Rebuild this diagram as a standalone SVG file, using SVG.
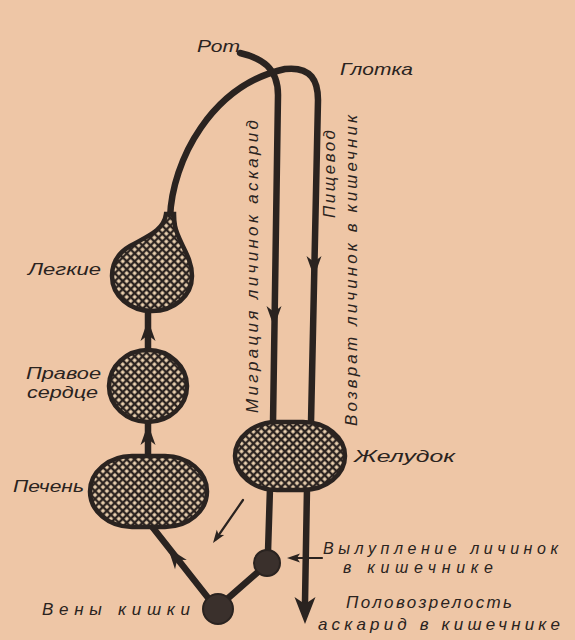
<svg xmlns="http://www.w3.org/2000/svg" xmlns:xlink="http://www.w3.org/1999/xlink" width="575" height="640" viewBox="0 0 575 640">
<style>
.t{font-family:"Liberation Sans","DejaVu Sans",sans-serif;font-style:italic;font-size:17px;fill:#2a2320}
.s{font-size:16px}
.ln{fill:none;stroke:#2a2320;stroke-width:6.5;stroke-linecap:round;stroke-linejoin:round}
.thin{fill:none;stroke:#2a2320;stroke-width:2.2;stroke-linecap:round}
.org{fill:url(#hatch);stroke:#2a2320;stroke-width:4.5}
.dot{fill:#3a302c;stroke:#2a2320;stroke-width:2}
.ah{fill:#2a2320}
</style>
<defs>
<pattern id="hatch" width="5.6" height="5.6" patternUnits="userSpaceOnUse" patternTransform="rotate(45)">
<rect width="5.6" height="5.6" fill="#2b2320"/>
<rect x="1.2" y="1.2" width="3.2" height="3.2" fill="#f0d6b4"/>
</pattern>
<path id="ah" d="M0,0 L-21,-7.5 L-15,0 L-21,7.5 Z"/>
<path id="ahBig" d="M0,0 L-27,-10.5 L-20,0 L-27,10.5 Z"/>
<path id="ahSm" d="M0,0 L-13,-4.5 L-10,0 L-13,4.5 Z"/>
</defs>
<rect width="575" height="640" fill="#eec6a6"/>

<g id="connectors">
<path class="ln" d="M240,53 C262,58 278,68 278,95 L273,423"/>
<path class="ln" d="M170,218 C172,160 212,85 285,69 C312,66 318,82 318,100 L311,423"/>
<path class="ln" d="M307,488 L305,602"/>
<path class="ln" d="M270,488 L268,552"/>
<path class="ln" d="M258,572 L226,600"/>
<path class="ln" d="M209,599 L150,524"/>
<path class="ln" d="M148,308 L148,352"/>
<path class="ln" d="M148,420 L148,457"/>
<path class="thin" d="M322,558 L292,558"/>
<path class="thin" d="M243,500 L216,539"/>
<use href="#ah" class="ah" transform="translate(274,327) rotate(90)"/>
<use href="#ah" class="ah" transform="translate(314,277) rotate(90)"/>
<use href="#ah" class="ah" transform="translate(148,320) rotate(-90)"/>
<use href="#ah" class="ah" transform="translate(148,424) rotate(-90)"/>
<use href="#ah" class="ah" transform="translate(168,548) rotate(-128)"/>
<use href="#ahBig" class="ah" transform="translate(305,624) rotate(90)"/>
<use href="#ahSm" class="ah" transform="translate(287,558) rotate(180)"/>
<use href="#ahSm" class="ah" transform="translate(213,543) rotate(125)"/>
</g>

<g id="lungs">
<path class="org" d="M166,214 C164,230 148,236 130,246 C118,253 112,263 112,276 C112,296 130,311 152,311 C174,311 192,296 192,276 C192,256 178,242 175,226 C174,220 174,216 174,214 Z"/>
<text class="t" x="28" y="275" textLength="73" lengthAdjust="spacingAndGlyphs">Легкие</text>
</g>
<g id="heart">
<ellipse class="org" cx="148" cy="386" rx="39" ry="36"/>
<text class="t s" x="26" y="379" textLength="75" lengthAdjust="spacingAndGlyphs">Правое</text>
<text class="t s" x="27" y="398" textLength="71" lengthAdjust="spacingAndGlyphs">сердце</text>
</g>
<g id="liver">
<rect class="org" x="90" y="456" width="117" height="71" rx="42" ry="35.5"/>
<text class="t" x="13" y="492" textLength="71" lengthAdjust="spacingAndGlyphs">Печень</text>
</g>
<g id="stomach">
<rect class="org" x="235" y="422" width="110" height="68" rx="42" ry="34"/>
<text class="t" x="354" y="462" textLength="101" lengthAdjust="spacingAndGlyphs">Желудок</text>
</g>
<g id="hatching">
<circle class="dot" cx="267" cy="563" r="13"/>
<text class="t s" x="323" y="554" textLength="235" lengthAdjust="spacing">Вылупление   личинок</text>
<text class="t s" x="343" y="573" textLength="150" lengthAdjust="spacing">в кишечнике</text>
</g>
<g id="veins">
<circle class="dot" cx="218" cy="609" r="15"/>
<text class="t" x="42" y="615" textLength="148" lengthAdjust="spacing">Вены    кишки</text>
</g>
<g id="mouth">
<text class="t" x="197" y="52" textLength="43" lengthAdjust="spacingAndGlyphs">Рот</text>
</g>
<g id="pharynx">
<text class="t" x="340" y="75" textLength="73" lengthAdjust="spacingAndGlyphs">Глотка</text>
</g>
<g id="labels">
<text class="t" transform="translate(258,413) rotate(-90)" textLength="293" lengthAdjust="spacing">Миграция личинок аскарид</text>
<text class="t" transform="translate(335,218) rotate(-90)" textLength="88" lengthAdjust="spacing">Пищевод</text>
<text class="t" transform="translate(357,426) rotate(-90)" textLength="311" lengthAdjust="spacing">Возврат личинок в кишечник</text>
</g>
<g id="adult">
<text class="t" x="346" y="608" textLength="166" lengthAdjust="spacing">Половозрелость</text>
<text class="t" x="318" y="630" textLength="242" lengthAdjust="spacing">аскарид в кишечнике</text>
</g>
</svg>
